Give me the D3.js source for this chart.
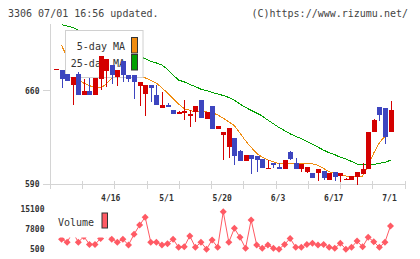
<!DOCTYPE html>
<html><head><meta charset="utf-8">
<script src="https://cdn.jsdelivr.net/npm/d3@7"></script>
<style>
body{margin:0;background:#fff}
svg{display:block}
text{font-family:"DejaVu Sans Mono",monospace}
</style>
</head><body>
<svg id="chart" width="420" height="259"></svg>
<script>
// --- DATA --------------------------------------------------------------------
const OPEN  = [676,675.3,672.8,664,672.8,657,660,657,669,675.1,679.6,670.3,682.6,672,672,663.3,657.7,664.5,657,647.2,
               649.5,645.2,642.2,644,641.4,643.9,652.7,638.4,648.7,631.6,626.4,618.1,624.6,614.8,607.3,611.8,611.1,608.6,601.8,605.8,
               602.8,601.5,614.1,605.8,601.5,599.3,598.3,598.3,600,593.3,599,596.3,593.3,593.3,595.5,597.5,601.3,629.1,647.7,647.2,629.1];
const HIGH  = [676.5,675.8,672.8,670.3,674.1,668.8,669.5,669.5,685.8,684.1,679.6,675.8,682.6,672,672,666.3,664.5,664.5,664.5,658.7,
               650.7,645.7,644.9,652.7,645.7,648.7,652.7,644.2,648.7,633.2,628.9,632.2,624.6,615.6,611.8,611.8,611.1,608.6,608.1,605.8,
               606.1,608.1,614.8,609.6,605.1,602.8,598.3,601.3,600,598.3,599,598.3,594.5,596.3,599,605.8,629.1,639,647.7,647.2,652.5];
const LOW   = [675.8,662,667,649,657,657,657,657,660.8,662.5,665.3,663.3,666.3,666.3,654,648.2,640.7,651.2,649,647.2,
               647.5,642.2,642.2,638.2,632.4,636.7,639.2,638.4,631.6,631.6,608.1,609.3,604.3,607.3,607.3,597.5,599.3,601.8,601.8,602.3,
               601.5,601.5,608.1,601.5,599.3,598.5,594.8,592.5,593.3,593.3,592.5,591.7,593,593.3,589.5,597.5,601.3,629.1,637.4,620.1,629.1];
const CLOSE = [676.3,669,667,670.3,657,660,657,669.5,685.8,684.1,671.5,675.8,672,669,666.3,666.3,664.5,662.3,649,649.5,
               647.5,642.2,644.2,644.4,642.4,648.7,639.2,644.2,631.6,633.2,628.9,632.2,611.3,607.3,611.8,609.1,608.1,602.3,602.1,604.3,
               601.5,608.1,609.1,601.5,605.1,602.8,594.8,601.3,594.8,598.3,595.5,598.3,593.8,596.3,599,601.3,629.1,638.2,641.9,625.4,645.7];

const MA5  = [null,694,685,674.5,668.3,665.6,663.8,662.3,662,664.9,669.4,673.6,677.3,677.8,674.5,670.9,669.6,667.8,665.6,662.2,
              658.2,654,650,646.5,645.3,644,644.3,644,643.4,641.9,639.3,636.7,633.7,628.2,622.4,617.5,613,610,608.1,606.6,
              605.1,605.1,605.1,605.1,605.1,605.1,605.1,604,601.7,599.1,597.9,596.8,596,595.6,595.5,596,603.5,613.3,620.9,625.8,null];
const MA25 = [null,709.5,708.5,707.3,705.5,703.5,701.7,700,698.3,696.6,694.9,693.2,691.5,689.8,688,686,683.9,681.9,680.8,679.2,
              676,671.7,667.9,666.6,664.7,663.1,661.1,660,658.7,657.5,656.4,654.9,652.8,650,647.4,645.3,643.2,641,637.9,635.2,
              632.4,630,627.6,625.7,624,621.8,619.7,617.6,615.4,613.4,612,610,608.8,606.9,605,604.5,604.3,604.7,605.6,606,607.9];

const VOLUME = [null,4100,3000,6700,3000,5100,2200,2200,4400,6000,4100,3000,4100,2000,5900,9300,12200,3000,3000,2000,
                2400,4100,1100,1300,5300,1100,3000,450,3800,1100,14200,3000,8100,4800,760,11200,2000,760,2000,760,
                450,2200,4400,1100,1100,2200,2600,2000,2200,1100,760,2600,450,1100,3400,1300,4800,3200,1100,3000,9000];

const DATE_IDX    = [10, 20, 30, 40, 50, 60];
const DATE_LABELS = ['4/16', '5/1', '5/20', '6/3', '6/17', '7/1'];
const PRICE_TICKS = [660, 590];
const VOL_TICKS   = [15100, 7800, 500];

// --- CONSTANTS ---------------------------------------------------------------
const COL = {
  UP: '#d40000', DOWN: '#3d45bf', MA5: '#f08c10', MA25: '#00a000',
  VOL: '#ff5a64', AXIS: '#d4d4d4', TEXT: '#333'
};
const DIAMOND = 'M0,-3.5L3.5,0L0,3.5L-3.5,0Z';

const svg = d3.select('#chart');

const x     = d3.scaleLinear().domain([0, 60]).range([56, 390.5]);
const y     = d3.scaleLinear().domain([590, 710]).range([184, 24]);
const yVol  = d3.scaleLinear().domain([500, 15100]).range([249, 209.3]);
const xGrid = d3.scaleLinear().domain([0, 11]).range([50.5, 405]);

// header
svg.append('text').attr('x', 8).attr('y', 16.5).attr('font-size', 10).attr('fill', '#444')
  .text('3306 07/01 16:56 updated.');
svg.append('text').attr('x', 408).attr('y', 16.5).attr('font-size', 10).attr('fill', '#444')
  .attr('text-anchor', 'end').text('(C)https://www.rizumu.net/');

// axes
const axisG = svg.append('g').attr('stroke', COL.AXIS).attr('stroke-width', 1).attr('shape-rendering', 'crispEdges');
axisG.append('line').attr('x1', xGrid(0)).attr('x2', xGrid(0)).attr('y1', 24).attr('y2', 187);
axisG.append('line').attr('x1', xGrid(0)).attr('x2', xGrid(11)).attr('y1', y(590)).attr('y2', y(590));
axisG.selectAll('line.xt').data(d3.range(12)).join('line').attr('class', 'xt')
  .attr('x1', d => xGrid(d)).attr('x2', d => xGrid(d)).attr('y1', 181).attr('y2', 189);
axisG.selectAll('line.yt').data(PRICE_TICKS).join('line').attr('class', 'yt')
  .attr('x1', 43).attr('x2', xGrid(0)).attr('y1', d => y(d)).attr('y2', d => y(d));

svg.selectAll('text.yl').data(PRICE_TICKS).join('text').attr('class', 'yl')
  .attr('x', 39.5).attr('y', d => y(d) + 3).attr('text-anchor', 'end')
  .attr('font-size', 8).attr('font-weight', 'bold').attr('fill', COL.TEXT).text(d => d);

svg.selectAll('text.xl').data(DATE_IDX).join('text').attr('class', 'xl')
  .attr('x', d => x(d) - 1).attr('y', 201).attr('text-anchor', 'middle')
  .attr('font-size', 8).attr('font-weight', 'bold').attr('fill', COL.TEXT).text((d, i) => DATE_LABELS[i]);

// moving averages (aliased like the original)
const idx = d3.range(CLOSE.length);
const maLine = arr => d3.line().defined(i => arr[i] != null).x(i => x(i)).y(i => y(arr[i]));
svg.append('path').attr('d', maLine(MA25)(idx)).attr('fill', 'none').attr('stroke', COL.MA25)
  .attr('stroke-width', 1).attr('shape-rendering', 'crispEdges');
svg.append('path').attr('d', maLine(MA5)(idx)).attr('fill', 'none').attr('stroke', COL.MA5)
  .attr('stroke-width', 1).attr('shape-rendering', 'crispEdges');

// price legend
const lg = svg.append('g');
lg.append('rect').attr('x', 65.5).attr('y', 30.5).attr('width', 77.5).attr('height', 47)
  .attr('fill', '#fff').attr('stroke', '#d0d0d0');
lg.append('text').attr('x', 125).attr('y', 50).attr('text-anchor', 'end').attr('font-size', 10).attr('fill', COL.TEXT).text('5-day MA');
lg.append('text').attr('x', 125).attr('y', 66.5).attr('text-anchor', 'end').attr('font-size', 10).attr('fill', COL.TEXT).text('25-day MA');
lg.append('rect').attr('x', 131.5).attr('y', 37.5).attr('width', 6).attr('height', 15.5).attr('fill', COL.MA5).attr('stroke', '#333');
lg.append('rect').attr('x', 131.5).attr('y', 54.5).attr('width', 6).attr('height', 15.5).attr('fill', COL.MA25).attr('stroke', '#333');

// candles
const cg = svg.append('g').attr('shape-rendering', 'crispEdges');
const candle = cg.selectAll('g').data(idx).join('g');
candle.append('line')
  .attr('x1', i => Math.round(x(i)) + 0.5).attr('x2', i => Math.round(x(i)) + 0.5)
  .attr('y1', i => y(HIGH[i])).attr('y2', i => y(LOW[i]))
  .attr('stroke', i => CLOSE[i] >= OPEN[i] ? COL.UP : COL.DOWN);
candle.append('rect')
  .attr('x', i => Math.round(x(i)) - 2).attr('width', 5)
  .attr('y', i => y(Math.max(OPEN[i], CLOSE[i])))
  .attr('height', i => Math.max(1.5, Math.abs(y(OPEN[i]) - y(CLOSE[i]))))
  .attr('fill', i => CLOSE[i] >= OPEN[i] ? COL.UP : COL.DOWN);

// volume
const vIdx = idx.filter(i => VOLUME[i] != null);
svg.append('path')
  .attr('d', d3.line().x(i => x(i)).y(i => yVol(VOLUME[i]))(vIdx))
  .attr('fill', 'none').attr('stroke', COL.VOL).attr('stroke-width', 1);
svg.selectAll('path.vm').data(vIdx).join('path').attr('class', 'vm')
  .attr('transform', i => `translate(${x(i)},${yVol(VOLUME[i])})`)
  .attr('d', DIAMOND).attr('fill', COL.VOL);

// volume legend
svg.append('rect').attr('x', 56).attr('y', 205).attr('width', 54).attr('height', 32.5).attr('fill', '#fff');
svg.append('text').attr('x', 58).attr('y', 226).attr('font-size', 10).attr('fill', COL.TEXT).text('Volume');
svg.append('rect').attr('x', 102).attr('y', 213).attr('width', 5.5).attr('height', 15)
  .attr('fill', COL.VOL).attr('stroke', '#333');

svg.selectAll('text.vl').data(VOL_TICKS).join('text').attr('class', 'vl')
  .attr('x', 44.5).attr('y', d => yVol(d) + 3).attr('text-anchor', 'end')
  .attr('font-size', 8).attr('font-weight', 'bold').attr('fill', COL.TEXT).text(d => d);
</script>
</body></html>
